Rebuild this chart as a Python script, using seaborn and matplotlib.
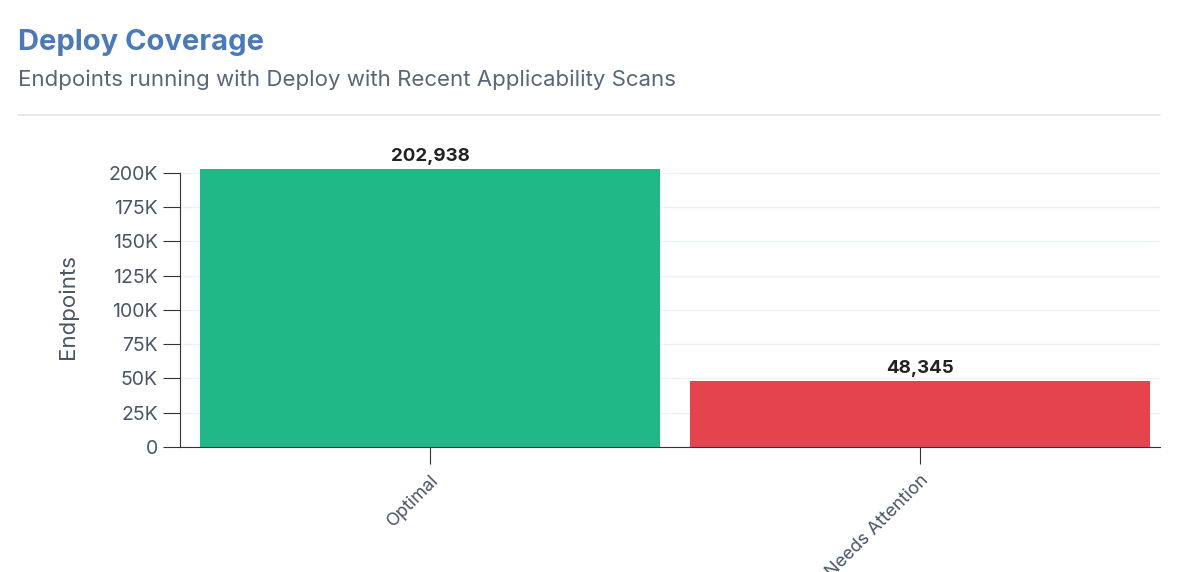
import matplotlib
matplotlib.use("Agg")
import matplotlib.pyplot as plt
import seaborn as sns
import pandas as pd
from matplotlib.ticker import FuncFormatter

categories = ["Optimal", "Needs Attention"]
values = [202938, 48345]
colors = ["#20b886", "#e5444f"]
yticks = [0, 25000, 50000, 75000, 100000, 125000, 150000, 175000, 200000]

sns.set_style("white")
plt.rcParams['font.family'] = ['Inter', 'DejaVu Sans']

fig = plt.figure(figsize=(11.79, 5.72), dpi=100)
ax = fig.add_axes([0.1527, 0.2185, 0.8313, 0.4913])
df = pd.DataFrame({"cat": categories, "val": values})
sns.barplot(data=df, x="cat", y="val", hue="cat", palette=colors, width=0.94,
            legend=False, ax=ax, saturation=1)
for p in ax.patches:
    p.set_edgecolor("none")
ax.set_ylim(0, 205000)
ax.set_xlim(-0.51, 1.49)
ax.set_yticks(yticks)
ax.spines["left"].set_bounds(0, 200000)
ax.yaxis.set_major_formatter(FuncFormatter(lambda v, _: "0" if v == 0 else f"{int(v/1000)}K"))
ax.grid(axis="y", color="#eef1f4", linewidth=1)
ax.set_axisbelow(True)
for s in ["top", "right"]:
    ax.spines[s].set_visible(False)
for s in ["left", "bottom"]:
    ax.spines[s].set_color("#333333")
ax.tick_params(axis="y", length=12, color="#333333", labelsize=14, labelcolor="#4a5568", direction="out", left=True, pad=4)
ax.tick_params(axis="x", length=12, color="#333333", labelsize=13, labelcolor="#4a5568", direction="out", bottom=True, pad=6)
for lab in ax.get_xticklabels():
    lab.set_rotation(45)
    lab.set_ha("right")
    lab.set_rotation_mode("anchor")
ax.set_xlabel("")
ax.set_ylabel("Endpoints", fontsize=16, color="#4a5568", labelpad=22)
for i, v in enumerate(values):
    ax.text(i, v + 3000, f"{v:,}", ha="center", va="bottom", fontsize=13.5, fontweight="bold", color="#222222")

fig.text(18/1179, 1-42/572, "Deploy Coverage", fontsize=21, fontweight="bold", color="#4a7ab8", va="center")
fig.text(18/1179, 1-80/572, "Endpoints running with Deploy with Recent Applicability Scans", fontsize=16, color="#5a6578", va="center")
fig.add_artist(plt.Line2D([18/1179, 1160/1179], [1-115/572]*2, color="#dde6ea", linewidth=1.2))
fig.savefig("out.png", dpi=100)
